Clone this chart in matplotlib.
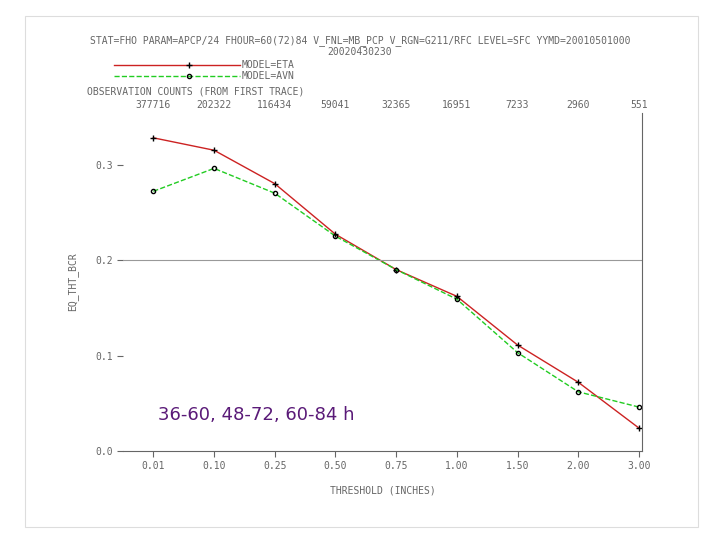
import matplotlib
matplotlib.use("Agg")
import matplotlib.pyplot as plt

thresholds = ["0.01", "0.10", "0.25", "0.50", "0.75", "1.00", "1.50", "2.00", "3.00"]
counts = ["377716", "202322", "116434", "59041", "32365", "16951", "7233", "2960", "551"]
eta = [0.328, 0.315, 0.280, 0.227, 0.190, 0.162, 0.111, 0.072, 0.024]
avn = [0.272, 0.296, 0.270, 0.225, 0.190, 0.159, 0.103, 0.062, 0.046]

fig = plt.figure(figsize=(7.2, 5.4), dpi=100)
fig.patches.append(plt.Rectangle((0.035, 0.025), 0.935, 0.945, transform=fig.transFigure,
                                 fill=False, ec="#dddddd", lw=0.8))
ax = fig.add_axes([123/720, 1-451/540, (642-123)/720, (451-113)/540])
x = list(range(len(thresholds)))
ax.plot(x, eta, color="#cc2222", lw=1, marker="+", ms=4, mec="black")
ax.plot(x, avn, color="#22cc22", lw=1, ls="--", marker="o", ms=3, mfc="none", mec="black")
ax.axhline(0.2, color="#999999", lw=0.8)
ax.set_xlim(-0.5, 8.05)
ax.set_ylim(0, 0.354)
tk = dict(fontsize=7, color="#666666", family="DejaVu Sans Mono")
ax.set_xticks(x)
ax.set_xticklabels(thresholds, **tk)
ax.set_yticks([0, 0.1, 0.2, 0.3])
ax.set_yticklabels(["0.0", "0.1", "0.2", "0.3"], **tk)
for s in ["top", "left"]:
    ax.spines[s].set_visible(False)
for s in ax.spines.values():
    s.set_color("#666666"); s.set_linewidth(0.8)
ax.tick_params(length=4, color="#666666")
ax.set_xlabel("THRESHOLD (INCHES)", labelpad=10, **tk)
ax.set_ylabel("EQ_THT_BCR", labelpad=12, **tk)
for i, c in enumerate(counts):
    ax.text(i, 1.01, c, transform=ax.get_xaxis_transform(), ha="center", va="bottom", **tk)
fig.text(0.5, 1-41/540, "STAT=FHO PARAM=APCP/24 FHOUR=60(72)84 V_FNL=MB_PCP V_RGN=G211/RFC LEVEL=SFC YYMD=20010501000",
         ha="center", va="center", **tk)
fig.text(0.5, 1-52/540, "20020430230", ha="center", va="center", **tk)
fig.lines.append(plt.Line2D([114/720, 240/720], [1-65/540]*2, color="#cc2222", lw=1, transform=fig.transFigure))
fig.lines.append(plt.Line2D([189/720], [1-65/540], marker="+", ms=4, color="black", transform=fig.transFigure))
fig.lines.append(plt.Line2D([114/720, 240/720], [1-76/540]*2, color="#22cc22", lw=1, ls="--", transform=fig.transFigure))
fig.lines.append(plt.Line2D([189/720], [1-76/540], marker="o", ms=3, mfc="none", mec="black", transform=fig.transFigure))
fig.text(242/720, 1-65/540, "MODEL=ETA", va="center", **tk)
fig.text(242/720, 1-76/540, "MODEL=AVN", va="center", **tk)
fig.text(87/720, 1-91/540, "OBSERVATION COUNTS (FROM FIRST TRACE)", va="center", **tk)
ax.text(158/720, 1-415/540, "36-60, 48-72, 60-84 h", transform=fig.transFigure, fontsize=13,
        color="#5a1a78", va="center")
fig.savefig("out.png", dpi=100)
